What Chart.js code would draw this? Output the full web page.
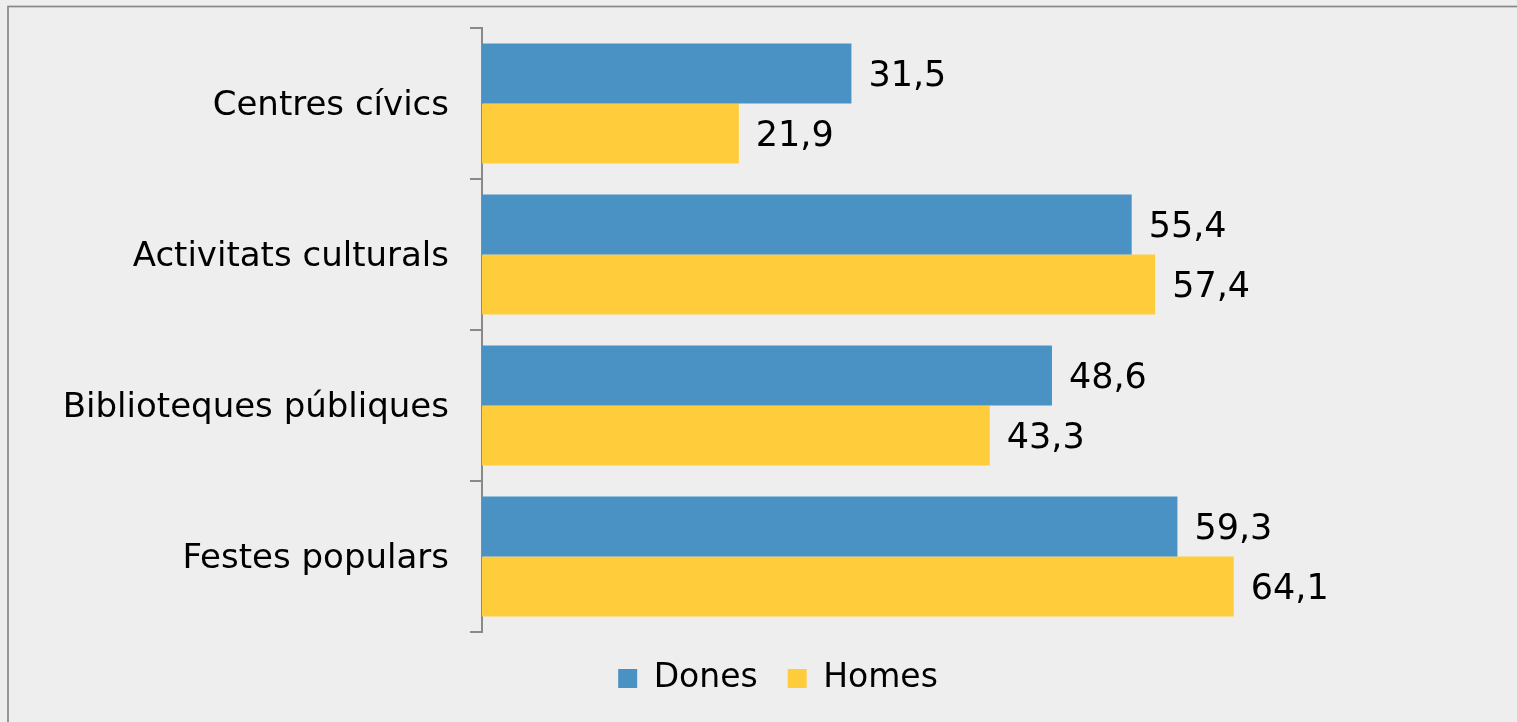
<!DOCTYPE html>
<html>
<head>
<meta charset="utf-8">
<script src="https://cdn.jsdelivr.net/npm/chart.js@4"></script>
<style>
  html, body { margin: 0; padding: 0; overflow: hidden; background: #eeeeee; }
  #wrap { position: relative; width: 1517px; height: 726px; }
</style>
</head>
<body>
<div id="wrap"><canvas id="chart"></canvas></div>
<script>
// Data
const categories = ['Centres cívics', 'Activitats culturals', 'Biblioteques públiques', 'Festes populars'];
const dones = [31.5, 55.4, 48.6, 59.3];
const homes = [21.9, 57.4, 43.3, 64.1];

const FONT = 'DejaVu Sans';

// background + frame
const framePlugin = {
    id: 'frame',
    beforeDraw(chart) {
        const c = chart.ctx;
        c.save();
        c.fillStyle = '#eeeeee';
        c.fillRect(0, 0, chart.width, chart.height);
        c.strokeStyle = '#878787';
        c.lineWidth = 1.7;
        c.strokeRect(8, 6.5, chart.width + 50, chart.height + 50);
        c.restore();
    }
};

// value labels to the right of each bar
const valueLabels = {
    id: 'valueLabels',
    afterDatasetsDraw(chart) {
        const c = chart.ctx;
        c.save();
        c.font = '35px "' + FONT + '"';
        c.fillStyle = '#000000';
        c.textAlign = 'left';
        c.textBaseline = 'middle';
        chart.data.datasets.forEach((ds, i) => {
            chart.getDatasetMeta(i).data.forEach((bar, j) => {
                const txt = ds.data[j].toFixed(1).replace('.', ',');
                c.fillText(txt, bar.x + 17, bar.y + 3);
            });
        });
        c.restore();
    }
};

new Chart(document.getElementById('chart'), {
    type: 'bar',
    data: {
        labels: categories,
        datasets: [
            { label: 'Dones', data: dones, backgroundColor: '#4a91c4' },
            { label: 'Homes', data: homes, backgroundColor: '#ffcd3b' }
        ]
    },
    options: {
        indexAxis: 'y',
        responsive: true,
        maintainAspectRatio: false,
        animation: false,
        layout: {
            padding: { left: 42, right: 3, top: 28, bottom: 21 }
        },
        datasets: {
            bar: {
                categoryPercentage: 0.795,
                barPercentage: 1.0
            }
        },
        plugins: {
            legend: {
                position: 'bottom',
                labels: {
                    font: { family: FONT, size: 33 },
                    color: '#000000',
                    boxWidth: 19,
                    boxHeight: 19,
                    padding: 30
                }
            },
            tooltip: { enabled: false }
        },
        scales: {
            x: {
                display: false,
                min: 0,
                max: 88
            },
            y: {
                afterFit(scale) {
                    scale.width = 440;
                },
                border: {
                    display: true,
                    color: '#898989',
                    width: 2
                },
                grid: {
                    drawOnChartArea: false,
                    color: '#898989',
                    lineWidth: 2,
                    tickLength: 12
                },
                ticks: {
                    font: { family: FONT, size: 34, lineHeight: 0.3 },
                    color: '#000000',
                    padding: 21,
                    labelOffset: 3
                }
            }
        }
    },
    plugins: [framePlugin, valueLabels]
});
</script>
</body>
</html>
